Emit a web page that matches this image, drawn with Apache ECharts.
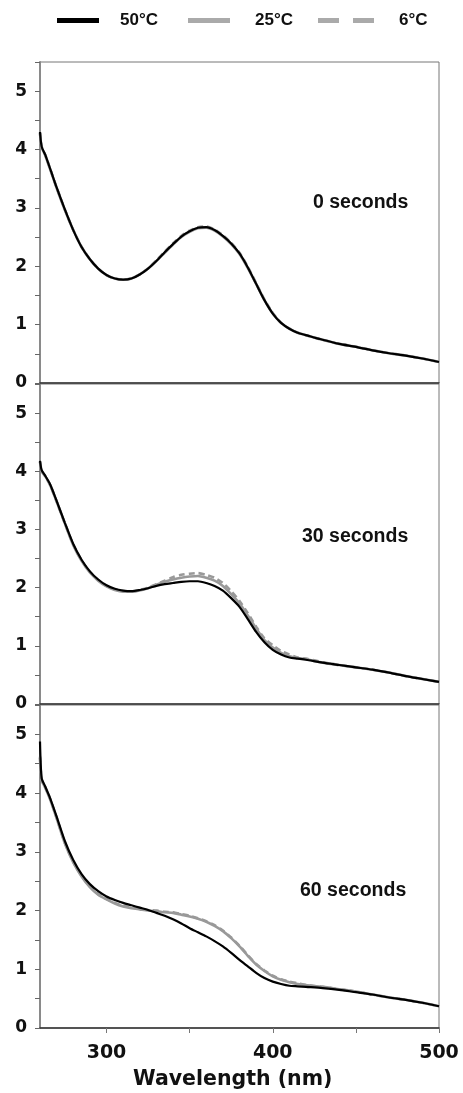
<!DOCTYPE html>
<html><head><meta charset="utf-8">
<script src="https://cdn.jsdelivr.net/npm/echarts@6/dist/echarts.min.js"></script>
<style>html,body{margin:0;padding:0;background:#fff}#c{width:463px;height:1093px}</style>
</head><body><div id="c"></div><script>
// Wavelength sample points (nm)
const wavelengths = [260,261,263,266,270,275,280,285,290,295,300,305,310,315,320,325,330,335,340,345,350,355,360,365,370,375,380,385,390,395,400,405,410,415,420,430,440,450,460,470,480,490,500];
const seriesNames = ['50°C', '25°C', '6°C'];
const panelLabels = ['0 seconds', '30 seconds', '60 seconds'];
const xTickValues = [300, 350, 400, 450, 500];
const xLabelValues = [300, 400, 500];

// Panel 1: 0 seconds
const p0_50 = [4.30,4.05,3.92,3.68,3.35,2.97,2.62,2.33,2.12,1.96,1.85,1.79,1.77,1.79,1.86,1.96,2.09,2.24,2.38,2.51,2.60,2.66,2.67,2.62,2.52,2.39,2.22,1.98,1.70,1.42,1.19,1.03,0.93,0.86,0.82,0.74,0.67,0.62,0.56,0.51,0.47,0.42,0.36];
const p0_25 = [4.28,4.04,3.91,3.67,3.34,2.96,2.62,2.33,2.12,1.96,1.85,1.79,1.77,1.79,1.86,1.96,2.09,2.23,2.37,2.50,2.59,2.65,2.66,2.61,2.51,2.38,2.21,1.97,1.70,1.42,1.19,1.03,0.93,0.86,0.82,0.74,0.67,0.62,0.56,0.51,0.47,0.42,0.36];
const p0_6  = [4.29,4.05,3.92,3.68,3.35,2.97,2.62,2.33,2.12,1.96,1.85,1.79,1.77,1.79,1.86,1.96,2.10,2.25,2.39,2.52,2.61,2.67,2.68,2.63,2.53,2.40,2.23,1.99,1.71,1.43,1.20,1.03,0.93,0.86,0.82,0.74,0.67,0.62,0.56,0.51,0.47,0.42,0.36];
// Panel 2: 30 seconds
const p30_50 = [4.18,4.02,3.93,3.78,3.49,3.11,2.75,2.48,2.28,2.14,2.04,1.98,1.95,1.94,1.96,1.99,2.03,2.06,2.08,2.10,2.11,2.11,2.08,2.03,1.95,1.82,1.67,1.46,1.24,1.06,0.93,0.85,0.80,0.78,0.76,0.71,0.67,0.63,0.59,0.54,0.48,0.43,0.38];
const p30_25 = [4.16,4.00,3.92,3.77,3.48,3.10,2.73,2.46,2.26,2.12,2.02,1.96,1.93,1.93,1.95,1.99,2.05,2.10,2.14,2.17,2.19,2.20,2.17,2.12,2.03,1.89,1.73,1.52,1.30,1.10,0.97,0.88,0.82,0.79,0.77,0.71,0.67,0.63,0.59,0.54,0.48,0.43,0.38];
const p30_6  = [4.17,4.01,3.92,3.77,3.48,3.10,2.74,2.47,2.27,2.13,2.03,1.97,1.94,1.93,1.96,2.00,2.06,2.12,2.18,2.22,2.24,2.25,2.22,2.17,2.08,1.94,1.77,1.56,1.33,1.13,1.01,0.91,0.85,0.80,0.78,0.72,0.67,0.63,0.59,0.54,0.48,0.43,0.38];
// Panel 3: 60 seconds
const p60_50 = [4.88,4.25,4.12,3.92,3.60,3.18,2.86,2.62,2.45,2.33,2.24,2.18,2.13,2.09,2.05,2.01,1.96,1.91,1.85,1.78,1.70,1.63,1.56,1.48,1.39,1.28,1.16,1.05,0.94,0.85,0.79,0.75,0.72,0.71,0.70,0.68,0.65,0.61,0.57,0.52,0.48,0.43,0.37];
const p60_25 = [4.60,4.22,4.10,3.90,3.57,3.14,2.82,2.58,2.40,2.27,2.19,2.12,2.07,2.04,2.02,2.00,1.99,1.97,1.96,1.93,1.90,1.86,1.81,1.74,1.65,1.53,1.39,1.23,1.08,0.97,0.88,0.82,0.78,0.75,0.73,0.70,0.66,0.62,0.57,0.52,0.48,0.43,0.37];
const p60_6  = [4.62,4.23,4.11,3.91,3.58,3.15,2.83,2.59,2.41,2.28,2.20,2.13,2.08,2.05,2.03,2.01,2.00,1.98,1.97,1.94,1.91,1.87,1.82,1.75,1.66,1.54,1.40,1.24,1.09,0.98,0.89,0.83,0.79,0.76,0.73,0.70,0.66,0.62,0.57,0.52,0.48,0.43,0.37];

const panels = [
  {'50°C': p0_50, '25°C': p0_25, '6°C': p0_6},
  {'50°C': p30_50, '25°C': p30_25, '6°C': p30_6},
  {'50°C': p60_50, '25°C': p60_25, '6°C': p60_6}
];

const styles = {
  '50°C': {color: '#000000', width: 2.2, type: 'solid'},
  '25°C': {color: '#999999', width: 2.6, type: 'solid'},
  '6°C':  {color: '#999999', width: 2.6, type: [6, 4]}
};

const gridBoxes = [
  {left: 40, width: 399, top: 62, height: 321},
  {left: 40, width: 399, top: 384, height: 320},
  {left: 40, width: 399, top: 705, height: 323}
];

const grids = gridBoxes.map(g => Object.assign({show: true, borderColor: '#777', borderWidth: 1, backgroundColor: 'transparent'}, g));

const yAxes = gridBoxes.map((g, i) => ({
  type: 'value', gridIndex: i, min: 0, max: 5.5, interval: 0.5,
  axisLine: {show: true, lineStyle: {color: '#8a8a8a', width: 2}},
  axisTick: {show: true, length: 5, inside: false, lineStyle: {color: '#666', width: 1}},
  axisLabel: {margin: 13, fontFamily: 'DejaVu Sans', fontWeight: 'bold', fontSize: 17, color: '#111',
    formatter: v => (Math.abs(v - Math.round(v)) < 1e-6 ? String(Math.round(v)) : '')},
  splitLine: {show: false}
}));

const xAxes = gridBoxes.map((g, i) => {
  const last = i === 2;
  return {
    type: 'value', gridIndex: i, min: 260, max: 500,
    axisLine: {show: true, onZero: false, lineStyle: {color: '#333', width: 1.5}},
    axisTick: last ? {show: true, length: 5, inside: false, customValues: xTickValues, lineStyle: {color: '#777', width: 1}} : {show: false},
    axisLabel: last ? {show: true, customValues: xLabelValues, margin: 16, fontFamily: 'DejaVu Sans', fontWeight: 'bold', fontSize: 19, color: '#111'} : {show: false},
    splitLine: {show: false}
  };
});

const series = [];
panels.forEach((p, i) => {
  ['6°C', '25°C', '50°C'].forEach(name => {
    const st = styles[name];
    series.push({
      name: name, type: 'line', xAxisIndex: i, yAxisIndex: i,
      data: wavelengths.map((w, k) => [w, p[name][k]]),
      showSymbol: false, symbol: 'none', smooth: 0.25,
      lineStyle: {color: st.color, width: st.width, type: st.type},
      itemStyle: {color: st.color},
      emphasis: {disabled: true}, silent: true, animation: false
    });
  });
});

const annY = [204, 538, 892];
const annX = [313, 302, 300];
const graphics = panelLabels.map((t, i) => ({
  type: 'text', left: annX[i], top: annY[i] - 11,
  style: {text: t, fontFamily: 'Liberation Sans, Arial', fontWeight: 'bold', fontSize: 19.5, fill: '#111'}
}));
graphics.push({
  type: 'text', left: 133, top: 1069,
  style: {text: 'Wavelength (nm)', fontFamily: 'DejaVu Sans', fontWeight: 'bold', fontSize: 20.5, fill: '#111'}
});

const legendText = pad => ({fontFamily: 'Liberation Sans, Arial', fontWeight: 'bold', fontSize: 17, color: '#111', padding: [0, 0, 0, pad]});
const legends = [
  {left: 57, itemWidth: 42, icon: 'rect', data: [{name: '50°C', itemStyle: {color: '#000'}}], textStyle: legendText(16)},
  {left: 188, itemWidth: 42, icon: 'rect', data: [{name: '25°C', itemStyle: {color: '#aaaaaa'}}], textStyle: legendText(20)},
  {left: 318, itemWidth: 56, icon: 'path://M0,0H21V5H0ZM35,0H56V5H35Z', data: [{name: '6°C', itemStyle: {color: '#aaaaaa'}}], textStyle: legendText(20)}
].map(l => Object.assign({top: 12, padding: 0, itemHeight: 5, selectedMode: false}, l));

const chart = echarts.init(document.getElementById('c'), null, {renderer: 'canvas'});
chart.setOption({
  animation: false,
  backgroundColor: '#fff',
  legend: legends,
  grid: grids,
  xAxis: xAxes,
  yAxis: yAxes,
  series: series,
  graphic: graphics
});
</script></body></html>
